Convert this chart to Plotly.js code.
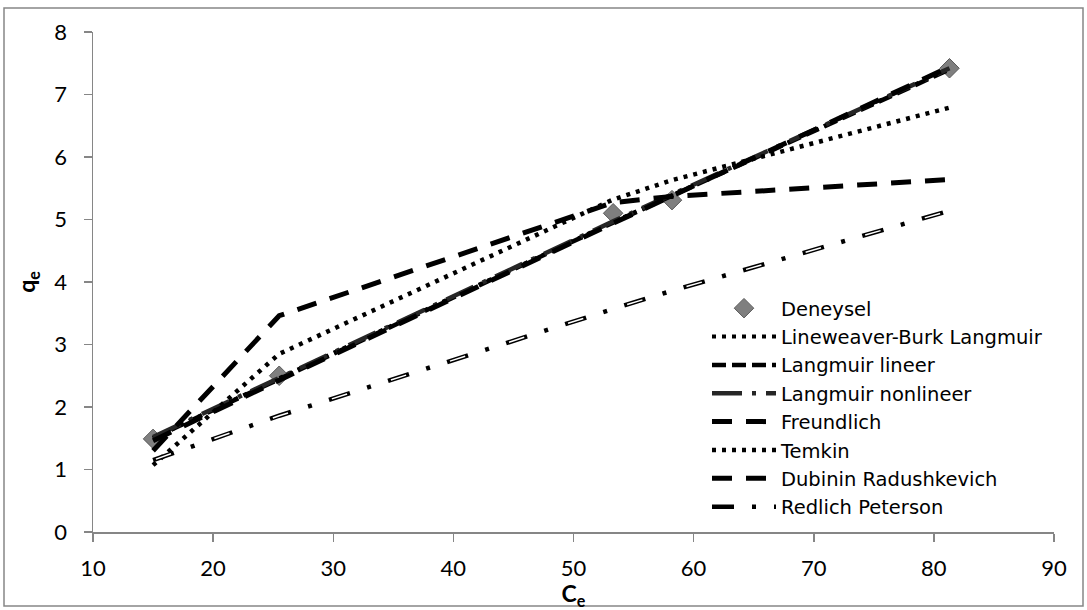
<!DOCTYPE html>
<html>
<head>
<meta charset="utf-8">
<script src="https://cdn.plot.ly/plotly-3.0.1.min.js"></script>
<style>
html,body{margin:0;padding:0;background:#fff;}
#chart{width:1087px;height:610px;}
</style>
</head>
<body>
<div id="chart"></div>
<script>
// Data
const ce = [15.0, 25.5, 53.3, 58.2, 81.3];
const qeExp = [1.49, 2.50, 5.10, 5.31, 7.42];
const qLineweaver = [1.50, 2.46, 4.96, 5.39, 7.41];
const qLangmuirLin = [1.50, 2.45, 4.95, 5.38, 7.40];
const qLangmuirNonlin = [1.52, 2.47, 4.97, 5.40, 7.42];
const qFreundlich = [1.46, 2.43, 4.94, 5.38, 7.44];
const qTemkin = [1.07, 2.85, 5.32, 5.63, 6.79];
const qDubinin = [1.30, 3.46, 5.27, 5.37, 5.64];
const qRedlich = [1.15, 1.86, 3.57, 3.86, 5.14];
const seriesNames = ["Deneysel", "Lineweaver-Burk Langmuir", "Langmuir lineer", "Langmuir nonlineer",
  "Freundlich", "Temkin", "Dubinin Radushkevich", "Redlich Peterson"];
const xTicks = [10, 20, 30, 40, 50, 60, 70, 80, 90];
const yTicks = [0, 1, 2, 3, 4, 5, 6, 7, 8];

const FONT = "Lato, 'Open Sans', sans-serif";
const LEGFONT = "'DejaVu Sans', 'Open Sans', sans-serif";

function lineTrace(name, y, dash, width, color) {
  return {
    x: ce, y: y, name: name, type: 'scatter', mode: 'lines',
    line: {color: color || '#000', width: width, dash: dash},
    hoverinfo: 'skip'
  };
}

const traces = [
  {x: ce, y: qeExp, name: seriesNames[0], type: 'scatter', mode: 'markers',
   marker: {symbol: 'diamond', size: 15, color: '#7f7f7f', line: {color: '#5a5a5a', width: 1}}},
  lineTrace(seriesNames[1], qLineweaver, '4px,6px', 4, '#000'),
  lineTrace(seriesNames[2], qLangmuirLin, '14px,6px', 4.5, '#000'),
  lineTrace(seriesNames[3], qLangmuirNonlin, '30px,10px,4px,10px', 4.5, '#262626'),
  lineTrace(seriesNames[4], qFreundlich, '20px,14px', 5, '#000'),
  lineTrace(seriesNames[5], qTemkin, '4px,6px', 4.5, '#000'),
  lineTrace(seriesNames[6], qDubinin, '20px,14px', 5, '#000'),
  lineTrace(seriesNames[7], qRedlich, '22px,18px,4px,18px', 4.5, '#000'),
  // white inner stroke making the Redlich dashes look hollow
  {x: ce, y: qRedlich, type: 'scatter', mode: 'lines', showlegend: false, hoverinfo: 'skip',
   line: {color: '#fff', width: 1.5, dash: '0px,3px,16px,43px'}}
];

const L = 93, R = 33, T = 32, B = 78;
const pw = 1087 - L - R, ph = 610 - T - B;

const layout = {
  width: 1087, height: 610,
  margin: {l: L, r: R, t: T, b: B, pad: 0},
  paper_bgcolor: '#fff', plot_bgcolor: '#fff',
  font: {family: FONT, size: 22, color: '#000'},
  showlegend: true,
  legend: {
    x: (707 - L) / pw, y: (532 - 289) / ph, xanchor: 'left', yanchor: 'top',
    bgcolor: 'rgba(0,0,0,0)', borderwidth: 0,
    font: {family: LEGFONT, size: 19.5, color: '#000'},
    itemwidth: 64, traceorder: 'normal'
  },
  xaxis: {
    range: [10, 90], tickmode: 'array', tickvals: xTicks, ticktext: xTicks.map(String),
    showgrid: false, zeroline: false, showline: true, linecolor: '#868686', linewidth: 1.5,
    ticks: 'outside', ticklen: 8, tickwidth: 1.5, tickcolor: '#868686',
    tickfont: {family: FONT, size: 22, color: '#000'}, ticklabelstandoff: 8,
    title: {text: '<b>C<sub>e</sub></b>', font: {family: FONT, size: 23, color: '#000'}, standoff: 4},
    fixedrange: true
  },
  yaxis: {
    range: [0, 8], tickmode: 'array', tickvals: yTicks, ticktext: yTicks.map(String),
    showgrid: false, zeroline: false, showline: true, linecolor: '#868686', linewidth: 1.5,
    ticks: 'outside', ticklen: 8, tickwidth: 1.5, tickcolor: '#868686',
    tickfont: {family: FONT, size: 22, color: '#000'}, ticklabelstandoff: 12,
    title: {text: '<b>q<sub>e</sub></b>', font: {family: FONT, size: 23, color: '#000'}, standoff: 12},
    fixedrange: true
  },
  shapes: [{
    type: 'rect', xref: 'paper', yref: 'paper', layer: 'below',
    x0: (4 - L) / pw, x1: (1083 - L) / pw, y0: (532 - 606) / ph, y1: (532 - 8) / ph,
    line: {color: '#868686', width: 1.5}, fillcolor: 'rgba(0,0,0,0)'
  }]
};

Plotly.newPlot('chart', traces, layout, {displayModeBar: false, staticPlot: true});
</script>
</body>
</html>
